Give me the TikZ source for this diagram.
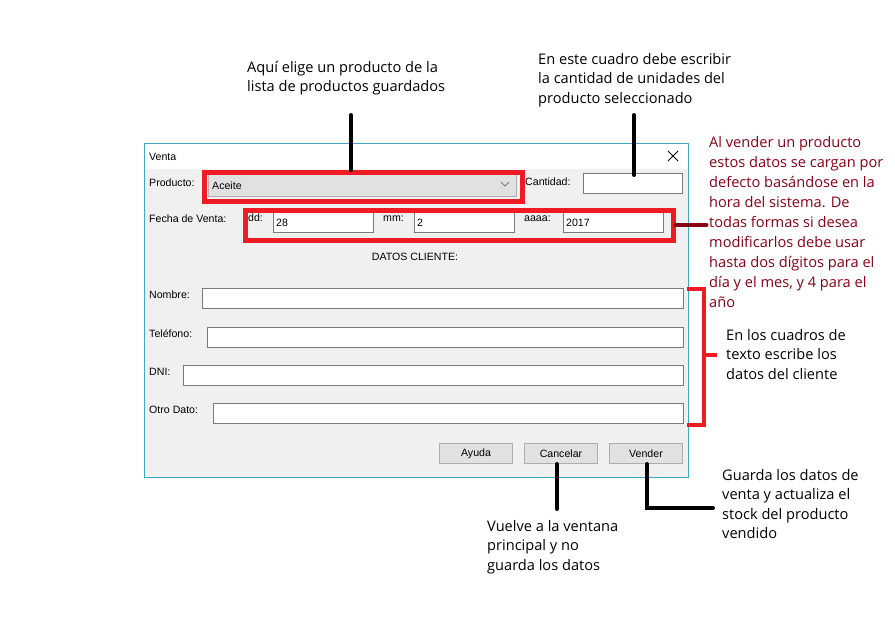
\documentclass[tikz,border=0pt]{standalone}
\usepackage{fontspec}
\setmainfont{Liberation Sans}
\newfontfamily\notafont{Open Sans}
\definecolor{borde}{RGB}{64,168,192}
\definecolor{fondo}{RGB}{240,240,240}
\definecolor{campoborde}{RGB}{122,122,122}
\definecolor{botonborde}{RGB}{173,173,173}
\definecolor{botonfondo}{RGB}{225,225,225}
\definecolor{rojo}{RGB}{237,28,36}
\definecolor{granate}{RGB}{136,0,21}

\begin{document}
\begin{tikzpicture}[x=1pt,y=-1pt,
    ui/.style={font=\fontsize{10.6}{12}\selectfont, inner sep=0pt, anchor=base west},
    nota/.style={font=\notafont\fontsize{14.6}{19.5}\selectfont, align=left, inner sep=0pt, anchor=north west},
    campo/.style={draw=campoborde, fill=white, line width=1pt, inner sep=0pt, anchor=north west, minimum height=20pt},
    boton/.style={draw=botonborde, fill=botonfondo, line width=1pt, inner sep=0pt, anchor=north west,
                  minimum width=73pt, minimum height=20pt, font=\fontsize{10.6}{12}\selectfont},
    marco/.style={draw=rojo, line width=4.5pt, inner sep=0pt, anchor=north west},
    linea/.style={line width=4pt, line cap=round}]
    \useasboundingbox (0,0) rectangle (895,621);

    % ventana
    \fill[fondo] (144,169) rectangle (688,477);
    \fill[white] (144,143) rectangle (688,169);
    \node[draw=borde, line width=1pt, inner sep=0pt, anchor=north west,
          minimum width=544pt, minimum height=334pt] (ventana) at (144,143) {};
    \node[ui] (titulo) at (149,160) {Venta};
    \draw[line width=1pt] (668,151) -- (678,161) (668,161) -- (678,151);

    % producto y cantidad
    \node[ui] (lprod) at (149,186) {Producto:};
    \node[draw=botonborde, fill=botonfondo, line width=1pt, inner sep=0pt, anchor=north west,
          minimum width=308pt, minimum height=23pt] (producto) at (208,173) {};
    \node[ui] (aceite) at (212,189) {Aceite};
    \draw[campoborde, line width=0.8pt] (501,182) -- (505,186) -- (509,182);
    \node[marco, minimum width=318pt, minimum height=29pt] (marcoprod) at (202,170) {};
    \node[ui] (lcant) at (525,185) {Cantidad:};
    \node[campo, minimum width=99pt] (cantidad) at (583,173) {};

    % fecha
    \node[ui] (lfecha) at (149,222) {Fecha de Venta:};
    \foreach \nom/\etq/\xe/\xc/\val in {dd/dd:/248/273/28, mm/mm:/383/414/2, aaaa/aaaa:/524/563/2017}{
        \node[ui] (l\nom) at (\xe,221) {\etq};
        \node[campo, minimum width=100pt, minimum height=21pt] (\nom) at (\xc,211) {};
        \node[ui] (v\nom) at (\xc+3,226) {\val};
    }
    \node[marco, minimum width=428pt, minimum height=30pt] (marcofecha) at (243,208) {};

    % datos del cliente
    \node[font=\fontsize{10.6}{12}\selectfont, inner sep=0pt, anchor=base] (datos) at (415,260) {DATOS CLIENTE:};
    \foreach \nom/\etq/\x/\y in {nombre/Nombre:/202/288, telefono/Teléfono:/207/327,
                                 dni/DNI:/183/365, otro/Otro Dato:/213/403}{
        \node[ui] (l\nom) at (149,\y+10.5) {\etq};
        \node[campo, minimum width=683pt-\x pt] (\nom) at (\x,\y) {};
    }

    % botones
    \foreach \nom/\txt/\x in {ayuda/Ayuda/439, cancelar/Cancelar/524, vender/Vender/609}
        \node[boton] (\nom) at (\x,443) {\txt};

    % notas
    \node[nota] (aqui) at (247,61) {Aquí elige un producto de la\\lista de productos guardados};
    \node[nota] (cuadro) at (538,53) {En este cuadro debe escribir\\la cantidad de unidades del\\producto seleccionado};
    \node[nota, granate, font=\notafont\fontsize{14.6}{20}\selectfont] (defecto) at (709,136)
        {Al vender un producto\\estos datos se cargan por\\defecto basándose en la\\hora del sistema. De\\todas formas si desea\\modificarlos debe usar\\hasta dos dígitos para el\\día y el mes, y 4 para el\\año};
    \node[nota] (textos) at (726,329) {En los cuadros de\\texto escribe los\\datos del cliente};
    \node[nota] (guarda) at (722,469) {Guarda los datos de\\venta y actualiza el\\stock del producto\\vendido};
    \node[nota] (vuelve) at (487,520) {Vuelve a la ventana\\principal y no\\guarda los datos};

    % conectores
    \coordinate (p1) at (351,115);
    \draw[linea] (p1) -- (p1 |- marcoprod.north);
    \coordinate (c1) at (634,115);
    \draw[linea] (c1) -- ([yshift=-2pt]c1 |- cantidad.north);
    \draw[linea, granate] (marcofecha.east) -- ++(31,0);
    \draw[rojo, line width=4pt] (687,289) -- (704,289) -- (704,425) -- (687,425);
    \coordinate (llave) at (704,355);
    \draw[rojo, line width=4pt] (llave) -- ++(13,0);
    \coordinate (k1) at (557,509);
    \draw[linea] (k1 |- cancelar.south) -- (k1);
    \coordinate (v2) at (713,508);
    \draw[linea] ([xshift=1pt]vender.south) |- (v2);
\end{tikzpicture}
\end{document}
